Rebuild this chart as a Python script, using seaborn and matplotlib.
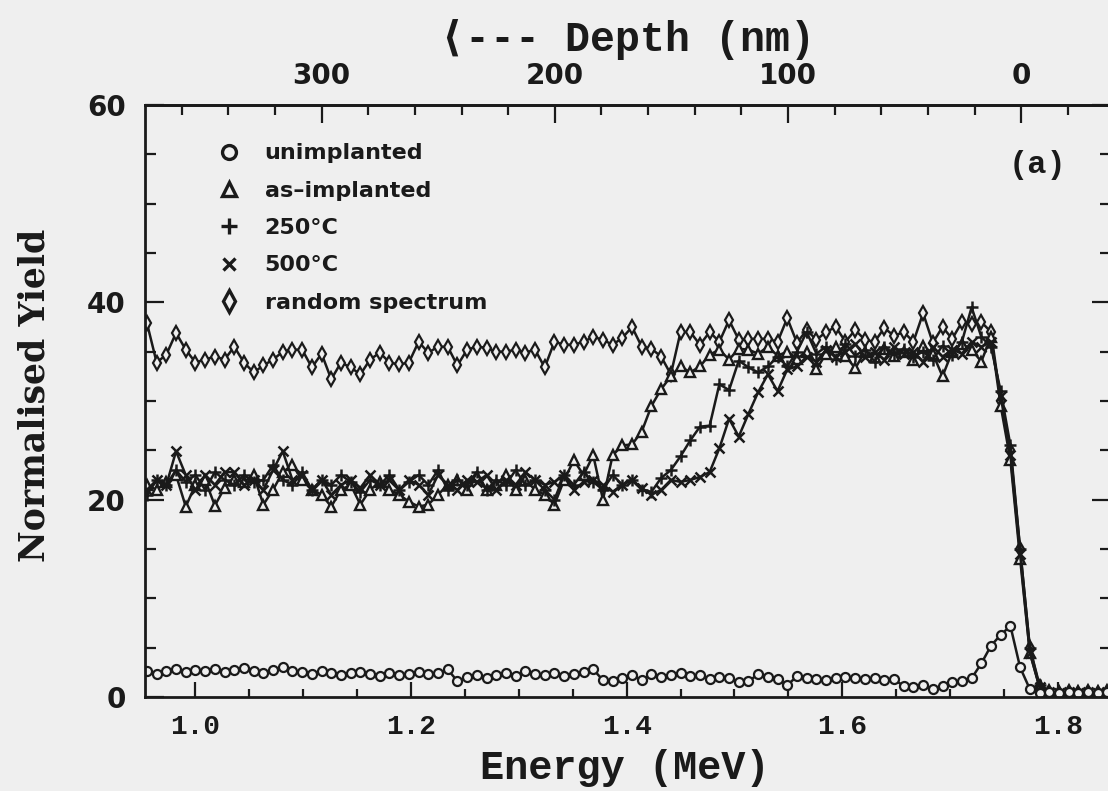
import numpy as np
import pandas as pd
import matplotlib
matplotlib.use("Agg")
import matplotlib.pyplot as plt
from matplotlib.lines import Line2D
from matplotlib.ticker import MultipleLocator, FixedLocator
import seaborn as sns

# ---------------- data ----------------
energy = [
    0.955, 0.964, 0.973, 0.982, 0.991, 1.000, 1.009, 1.018, 1.027, 1.036,
    1.045, 1.054, 1.063, 1.072, 1.081, 1.090, 1.099, 1.108, 1.117, 1.126,
    1.135, 1.144, 1.153, 1.162, 1.171, 1.180, 1.189, 1.198, 1.207, 1.216,
    1.225, 1.234, 1.243, 1.252, 1.261, 1.270, 1.279, 1.288, 1.297, 1.306,
    1.315, 1.324, 1.333, 1.342, 1.351, 1.360, 1.369, 1.378, 1.387, 1.396,
    1.405, 1.414, 1.423, 1.432, 1.441, 1.450, 1.459, 1.468, 1.477, 1.486,
    1.495, 1.504, 1.513, 1.522, 1.531, 1.540, 1.549, 1.558, 1.567, 1.576,
    1.585, 1.594, 1.603, 1.612, 1.621, 1.630, 1.639, 1.648, 1.657, 1.666,
    1.675, 1.684, 1.693, 1.702, 1.711, 1.720, 1.729, 1.738, 1.747, 1.756,
    1.765, 1.774, 1.783, 1.792, 1.801, 1.810, 1.819, 1.828, 1.837, 1.846,
]

random_spectrum = [
    37.9, 33.9, 34.7, 36.9, 35.2, 33.9, 34.2, 34.5, 34.2, 35.5,
    33.9, 32.9, 33.6, 34.2, 35.0, 35.2, 35.2, 33.4, 34.8, 32.2,
    33.9, 33.4, 32.7, 34.2, 34.9, 33.9, 33.7, 33.9, 36.0, 34.9,
    35.5, 35.5, 33.6, 35.2, 35.5, 35.4, 35.0, 35.0, 35.2, 34.9,
    35.2, 33.4, 36.0, 35.7, 35.7, 36.0, 36.5, 36.2, 35.7, 36.4,
    37.5, 35.5, 35.3, 34.5, 32.7, 37.0, 37.0, 35.7, 37.0, 36.0,
    38.2, 36.2, 36.3, 36.3, 36.3, 36.0, 38.4, 35.9, 37.2, 36.2,
    37.0, 37.5, 36.0, 37.2, 36.2, 36.0, 37.4, 36.6, 37.0, 36.0,
    38.9, 35.9, 37.5, 36.3, 38.0, 37.8, 38.0, 37.0, 30.0, 25.0,
    15.0, 5.0, 1.0, 0.5, 0.4, 0.5, 0.4, 0.5, 0.4, 0.5,
]

as_implanted = [
    21.5, 21.0, 21.8, 22.5, 19.3, 21.5, 22.0, 19.4, 21.2, 22.0,
    21.8, 22.5, 19.5, 21.0, 22.8, 23.5, 22.0, 21.0, 20.5, 19.3,
    21.0, 21.5, 19.5, 21.0, 21.8, 21.0, 20.5, 19.8, 19.3, 19.5,
    20.5, 21.5, 22.0, 21.0, 22.3, 21.0, 21.5, 22.5, 21.0, 22.0,
    21.0, 20.5, 19.5, 22.0, 24.0, 22.5, 24.5, 20.0, 24.5, 25.5,
    25.6, 26.9, 29.5, 31.2, 32.5, 33.5, 32.9, 33.5, 34.7, 35.2,
    34.2, 35.3, 35.2, 34.8, 35.5, 34.6, 35.0, 34.3, 35.0, 33.2,
    34.8, 35.5, 34.6, 33.3, 35.0, 34.5, 35.3, 34.6, 35.0, 34.2,
    35.6, 34.8, 32.5, 35.0, 35.8, 35.2, 34.0, 36.5, 29.5, 24.0,
    14.0, 4.5, 1.0, 0.4, 0.5, 0.4, 0.5, 0.4, 0.5, 0.4,
]

annealed_250 = [
    20.5, 22.0, 21.5, 23.0, 21.8, 22.5, 21.0, 22.8, 22.0, 21.5,
    22.5, 21.8, 22.0, 23.5, 22.0, 21.5, 22.8, 21.0, 22.0, 21.5,
    22.5, 21.8, 20.8, 22.0, 21.5, 22.5, 21.0, 21.8, 22.5, 21.5,
    23.0, 21.0, 22.0, 21.5, 22.8, 21.0, 22.0, 21.5, 23.0, 21.5,
    22.0, 21.0, 20.0, 22.5, 21.5, 22.8, 21.8, 21.0, 22.5, 21.5,
    22.0, 21.0, 20.8, 22.2, 23.0, 24.4, 26.0, 27.4, 27.5, 31.7,
    31.1, 34.1, 33.4, 32.9, 33.5, 34.5, 33.5, 35.0, 37.0, 34.8,
    35.5, 34.3, 35.8, 34.6, 35.2, 34.0, 35.5, 34.8, 35.3, 34.5,
    35.0, 34.2, 35.6, 34.7, 36.0, 39.5, 36.5, 35.5, 31.0, 25.5,
    15.0, 5.0, 1.2, 0.5, 0.4, 0.5, 0.4, 0.5, 0.4, 0.5,
]

annealed_500 = [
    21.0, 22.0, 21.5, 24.9, 22.5, 21.0, 22.5, 21.5, 22.8, 22.8,
    21.5, 22.0, 21.0, 23.0, 24.9, 22.0, 22.5, 21.0, 22.0, 20.5,
    21.5, 22.0, 21.2, 22.5, 21.5, 22.0, 21.0, 22.0, 21.5, 20.5,
    22.5, 21.5, 21.0, 22.0, 21.8, 22.5, 21.0, 22.0, 21.5, 22.8,
    22.0, 21.5, 21.8, 22.5, 21.0, 21.8, 22.0, 21.5, 20.8, 21.5,
    22.0, 21.2, 20.5, 21.0, 22.0, 21.8, 22.0, 22.3, 22.8, 25.2,
    28.2, 26.4, 28.7, 30.9, 32.7, 31.0, 33.2, 33.5, 34.5, 34.0,
    35.2, 34.5, 35.0, 35.8, 34.5, 35.0, 34.2, 35.5, 34.8, 35.0,
    34.0, 35.5, 34.5, 35.2, 34.8, 36.0, 35.5, 36.0, 30.5, 24.5,
    14.5, 4.5, 1.0, 0.5, 0.4, 0.5, 0.4, 0.5, 0.4, 0.5,
]

unimplanted = [
    2.6, 2.3, 2.6, 2.8, 2.5, 2.7, 2.6, 2.8, 2.5, 2.7,
    2.9, 2.6, 2.4, 2.7, 3.0, 2.6, 2.5, 2.3, 2.6, 2.4,
    2.2, 2.4, 2.5, 2.3, 2.1, 2.4, 2.2, 2.3, 2.5, 2.3,
    2.4, 2.8, 1.6, 2.0, 2.2, 1.9, 2.2, 2.4, 2.1, 2.6,
    2.3, 2.2, 2.4, 2.1, 2.3, 2.5, 2.8, 1.7, 1.6, 1.9,
    2.2, 1.7, 2.3, 2.0, 2.2, 2.4, 2.1, 2.2, 1.8, 2.0,
    1.9, 1.5, 1.6, 2.3, 2.0, 1.8, 1.2, 2.1, 1.9, 1.8,
    1.7, 1.9, 2.0, 1.9, 1.8, 1.9, 1.7, 1.8, 1.1, 1.0,
    1.2, 0.8, 1.1, 1.5, 1.6, 1.9, 3.4, 5.2, 6.3, 7.2,
    3.0, 0.8, 0.4, 0.5, 0.4, 0.5, 0.4, 0.5, 0.4, 0.5,
]

legend_labels = ["unimplanted", "as\u2013implanted", "250\u00b0C", "500\u00b0C", "random spectrum"]
energy_ticks = [1.0, 1.2, 1.4, 1.6, 1.8]
depth_ticks = [300, 200, 100, 0]
yield_ticks = [0, 20, 40, 60]

# ---------------- style ----------------
ink = "#1a1a1a"
bg = "#efefef"
sns.set_theme(style="ticks")
plt.rcParams["font.family"] = ["DejaVu Sans"]
plt.rcParams["axes.linewidth"] = 2.0

fig = plt.figure(figsize=(11.08, 7.91), dpi=100, facecolor=bg)
ax = fig.add_axes([145 / 1108, 1 - 697 / 791, (1111 - 145) / 1108, (697 - 105) / 791])
ax.set_facecolor(bg)
for s in ax.spines.values():
    s.set_color(ink)

df = pd.DataFrame({
    "energy": energy,
    "random": random_spectrum,
    "as": as_implanted,
    "t250": annealed_250,
    "t500": annealed_500,
    "unimp": unimplanted,
})

series = [
    ("random", "d", 7.5, 1.6),
    ("as", "^", 7.0, 1.7),
    ("t250", "+", 8.5, 1.8),
    ("t500", "x", 6.5, 1.8),
    ("unimp", "o", 6.5, 1.6),
]
for col, mk, ms, mew in series:
    sns.lineplot(data=df, x="energy", y=col, ax=ax, color=ink, lw=1.8,
                 marker=mk, markersize=ms, markerfacecolor=bg,
                 markeredgecolor=ink, markeredgewidth=mew,
                 estimator=None, sort=False, legend=False)

ax.set_xlim(0.9532, 1.8493)
ax.set_ylim(0, 60)
ax.xaxis.set_major_locator(FixedLocator(energy_ticks))
ax.xaxis.set_minor_locator(MultipleLocator(0.05))
ax.yaxis.set_major_locator(FixedLocator(yield_ticks))
ax.yaxis.set_minor_locator(MultipleLocator(5))
ax.set_xticklabels([f"{v:.1f}" for v in energy_ticks])
ax.set_yticklabels([str(v) for v in yield_ticks])

ax.tick_params(axis="both", which="both", direction="in", top=False,
               right=True, colors=ink, width=1.6)
ax.tick_params(axis="y", which="major", length=14, pad=14)
ax.tick_params(axis="y", which="minor", length=8)
ax.tick_params(axis="x", which="major", length=11, pad=12)
ax.tick_params(axis="x", which="minor", length=6)
for lab in ax.get_xticklabels():
    lab.set_fontfamily("Liberation Mono")
    lab.set_fontweight("bold")
    lab.set_fontsize(20)
for lab in ax.get_yticklabels():
    lab.set_fontfamily("DejaVu Sans")
    lab.set_fontweight("bold")
    lab.set_fontsize(20)

ax.set_xlabel("Energy (MeV)", fontfamily="Liberation Mono", fontweight="bold",
              fontsize=29, color=ink)
ax.xaxis.set_label_coords(0.497, -0.088)
ax.set_ylabel("Normalised Yield", fontfamily="DejaVu Serif", fontweight="bold",
              fontsize=25, color=ink)
ax.yaxis.set_label_coords(-0.097, 0.51)

# top depth axis
E0, k = 1.766, 0.002163
sec = ax.secondary_xaxis("top", functions=(lambda e: (E0 - e) / k,
                                           lambda d: E0 - d * k))
sec.xaxis.set_major_locator(FixedLocator(depth_ticks))
sec.xaxis.set_minor_locator(MultipleLocator(20))
sec.set_xticklabels([str(v) for v in depth_ticks])
sec.tick_params(which="both", direction="in", colors=ink, width=1.6)
sec.tick_params(which="major", length=13, pad=11)
sec.tick_params(which="minor", length=7)
sec.spines["top"].set_linewidth(2.0)
sec.spines["top"].set_color(ink)
for lab in sec.get_xticklabels():
    lab.set_fontfamily("DejaVu Sans")
    lab.set_fontweight("bold")
    lab.set_fontsize(20)

fig.text(627 / 1108, 1 - 40 / 791, "\u27e8--- Depth (nm)", ha="center", va="center",
         family=["Liberation Mono", "DejaVu Sans Mono", "DejaVu Sans"],
         fontweight="bold", fontsize=30, color=ink)

# legend: symbols only
handle_specs = [("o", 10), ("^", 10), ("+", 12), ("x", 9), ("d", 11)]
handles = [Line2D([], [], ls="none", marker=m, ms=s, mfc=bg, mec=ink, mew=2.4, color=ink)
           for m, s in handle_specs]
leg = ax.legend(handles, legend_labels, loc="upper left",
                bbox_to_anchor=(0.0756, 0.935), frameon=False,
                handlelength=1.0, handletextpad=1.1, labelspacing=0.78,
                borderpad=0, borderaxespad=0,
                prop={"family": "DejaVu Sans", "weight": "bold", "size": 16})
for t in leg.get_texts():
    t.set_color(ink)

ax.text((1038 - 145) / 966, (697 - 165) / 592, "(a)", transform=ax.transAxes,
        ha="center", va="center", fontfamily="Liberation Mono", fontweight="bold",
        fontsize=23, color=ink)

fig.savefig("out.png", dpi=100, facecolor=bg)
